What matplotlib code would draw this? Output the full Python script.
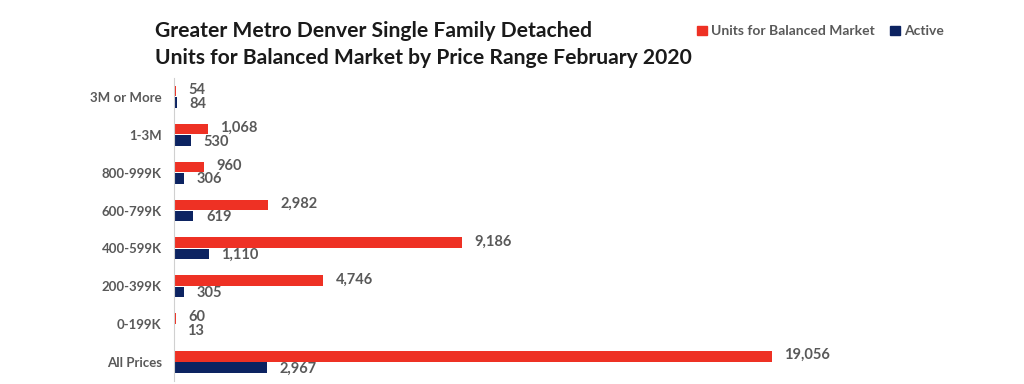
import matplotlib.pyplot as plt
from matplotlib.patches import Patch

categories = ["3M or More", "1-3M", "800-999K", "600-799K", "400-599K", "200-399K", "0-199K", "All Prices"]
balanced = [54, 1068, 960, 2982, 9186, 4746, 60, 19056]
active = [84, 530, 306, 619, 1110, 305, 13, 2967]

red = "#EE3124"
navy = "#0C2361"
grey = "#595959"

plt.rcParams["font.family"] = ["Lato", "DejaVu Sans"]

fig = plt.figure(figsize=(10.24, 3.84), dpi=100)
ax = fig.add_axes([0.17, 0.008, 0.78, 0.789])

h = 0.275
off = 0.15
ypos = list(range(len(categories)))
ax.barh([y - off for y in ypos], balanced, height=h, color=red)
ax.barh([y + off for y in ypos], active, height=h, color=navy)

# value labels, nudged apart a little so the small pairs don't collide
for y, v in zip(ypos, balanced):
    ax.text(v + 400, y - off - 0.03, f"{v:,}", va="center", ha="left",
            fontsize=10.5, fontweight="bold", color=grey)
for y, v in zip(ypos, active):
    ax.text(v + 400, y + off + 0.03, f"{v:,}", va="center", ha="left",
            fontsize=10.5, fontweight="bold", color=grey)

ax.set_ylim(len(categories) - 0.5, -0.5)
ax.set_xlim(0, 25460)
ax.set_yticks(ypos)
ax.set_yticklabels(categories, fontsize=9.5, fontweight="bold", color=grey)
ax.tick_params(axis="y", length=0, pad=9)
ax.set_xticks([])
for s in ["top", "right", "bottom"]:
    ax.spines[s].set_visible(False)
ax.spines["left"].set_color("#D0D0D0")

fig.text(0.151, 0.885, "Greater Metro Denver Single Family Detached\nUnits for Balanced Market by Price Range February 2020",
         fontsize=15.2, fontweight="bold", color="#1a1a1a", ha="left", va="center", linespacing=1.45)

handles = [Patch(color=red), Patch(color=navy)]
fig.legend(handles, ["Units for Balanced Market", "Active"], loc="center", bbox_to_anchor=(0.801, 0.918),
           ncol=2, frameon=False, handlelength=0.7, handleheight=0.7, handletextpad=0.3,
           columnspacing=1.1, labelcolor=grey, prop={"weight": "bold", "size": 10})

fig.savefig("out.png", dpi=100)
